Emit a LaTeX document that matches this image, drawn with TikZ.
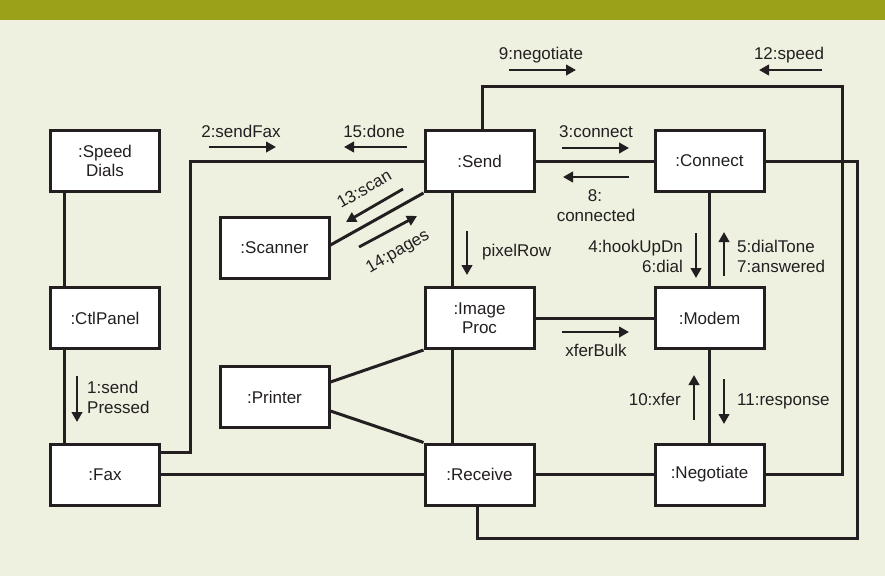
\documentclass[tikz,border=0pt]{standalone}
\usepackage{fontspec}
\setmainfont{Liberation Sans}
\usetikzlibrary{arrows.meta}
\definecolor{bandcol}{RGB}{155,161,24}
\definecolor{paper}{RGB}{238,240,224}
\definecolor{ink}{RGB}{35,31,32}
\begin{document}
\begin{tikzpicture}[x=1pt,y=-1pt,
  obj/.style={draw=ink, fill=white, line width=3pt, minimum width=109pt,
    minimum height=61pt, inner sep=0pt, align=center,
    font=\fontsize{17}{19.5}\selectfont, text=ink},
  link/.style={draw=ink, line width=3pt},
  msg/.style={draw=ink, line width=2.8pt, -{Triangle[length=10pt,width=10.5pt]}},
  lbl/.style={font=\fontsize{17}{20}\selectfont, text=ink, inner sep=0pt},
]
% background and top band
\fill[paper] (0,0) rectangle (885,576);
\fill[bandcol] (0,0) rectangle (885,20);
\useasboundingbox (0,0) rectangle (885,576);

% corners of the two outer loops
\coordinate (topR) at (842,86);
\coordinate (botR) at (857,538);

% objects
\node[obj] (sd)   at (105,161)   {:Speed\\Dials};
\node[obj] (ctl)  at (105,318)   {:CtlPanel};
\node[obj] (fax)  at (105,474.5) {:Fax};
\node[obj] (scan) at (274.5,248) {:Scanner};
\node[obj] (prn)  at (274.5,397) {:Printer};
\node[obj] (send) at (479.5,161) {:Send};
\node[obj] (img)  at (479.5,318) {:Image\\Proc};
\node[obj] (rcv)  at (479.5,474.5) {:Receive};
\node[obj] (con)  at (709.5,161) {:Connect};
\node[obj] (mod)  at (709.5,318) {:Modem};
\node[obj] (neg)  at (709.5,474.5) {:Negotiate};

% links between objects
\draw[link] ([xshift=-41pt]sd.south) -- ([xshift=-41pt]ctl.north);
\draw[link] ([xshift=-41pt]ctl.south) -- ([xshift=-41pt]fax.north);
\draw[link] ([yshift=22.5pt]fax.east) -- ++(29.5,0) |- (send.west);
\draw[link] (fax) -- (rcv);
\draw[link] (rcv) -- (neg);
\draw[link] (send) -- (con);
\draw[link] (img) -- (mod);
\draw[link] (con) -- (mod);
\draw[link] (mod) -- (neg);
\draw[link] ([xshift=-27.5pt]send.south) -- ([xshift=-27.5pt]img.north);
\draw[link] ([xshift=-27.5pt]img.south) -- ([xshift=-27.5pt]rcv.north);
\draw[link] (send.south west) -- ([yshift=3pt]scan.east);
\draw[link] ([yshift=15pt]prn.east) -- (img.south west);
\draw[link] ([yshift=-14pt]prn.east) -- (rcv.north west);
\draw[link] ([xshift=2.5pt]send.north) |- (topR) |- (neg.east);
\draw[link] (con.east) -| (botR) -| ([xshift=-2.5pt]rcv.south);

% messages
\draw[msg] (209,147) -- (276,147);
\node[lbl, anchor=base] (m2) at (241,137) {2:sendFax};
\draw[msg] (407,147) -- (344,147);
\node[lbl, anchor=base] (m15) at (374,137) {15:done};
\draw[msg] (509,70) -- (576,70);
\node[lbl, anchor=base] (m9) at (541,59) {9:negotiate};
\draw[msg] (822,70) -- (759,70);
\node[lbl, anchor=base] (m12) at (789,59) {12:speed};
\draw[msg] (562,148) -- (629,148);
\node[lbl, anchor=base] (m3) at (596,137) {3:connect};
\draw[msg] (629,177) -- (563,177);
\node[lbl, anchor=base] (m8a) at (595,201) {8:};
\node[lbl, anchor=base] (m8b) at (596,221) {connected};
\draw[msg] (403,189) -- (346,222);
\node[lbl, rotate=30] (m13) at (364,189) {13:scan};
\draw[msg] (359,247) -- (417,216);
\node[lbl, rotate=30] (m14) at (398,252) {14:pages};
\draw[msg] (467,231) -- (467,275);
\node[lbl, anchor=base west] (mpx) at (482,256) {pixelRow};
\draw[msg] (562,332) -- (629,332);
\node[lbl, anchor=base] (mxb) at (596,356) {xferBulk};
\draw[msg] (696,233) -- (696,278);
\node[lbl, anchor=base east] (m4) at (683,252) {4:hookUpDn};
\node[lbl, anchor=base east] (m6) at (683,272) {6:dial};
\draw[msg] (724,276) -- (724,232);
\node[lbl, anchor=base west] (m5) at (737,252) {5:dialTone};
\node[lbl, anchor=base west] (m7) at (737,272) {7:answered};
\draw[msg] (694,420) -- (694,375);
\node[lbl, anchor=base east] (m10) at (681,405) {10:xfer};
\draw[msg] (724,379) -- (724,424);
\node[lbl, anchor=base west] (m11) at (737,405) {11:response};
\draw[msg] (77,376) -- (77,422);
\node[lbl, anchor=base west] (m1a) at (87,393) {1:send};
\node[lbl, anchor=base west] (m1b) at (87,413) {Pressed};
\end{tikzpicture}
\end{document}
